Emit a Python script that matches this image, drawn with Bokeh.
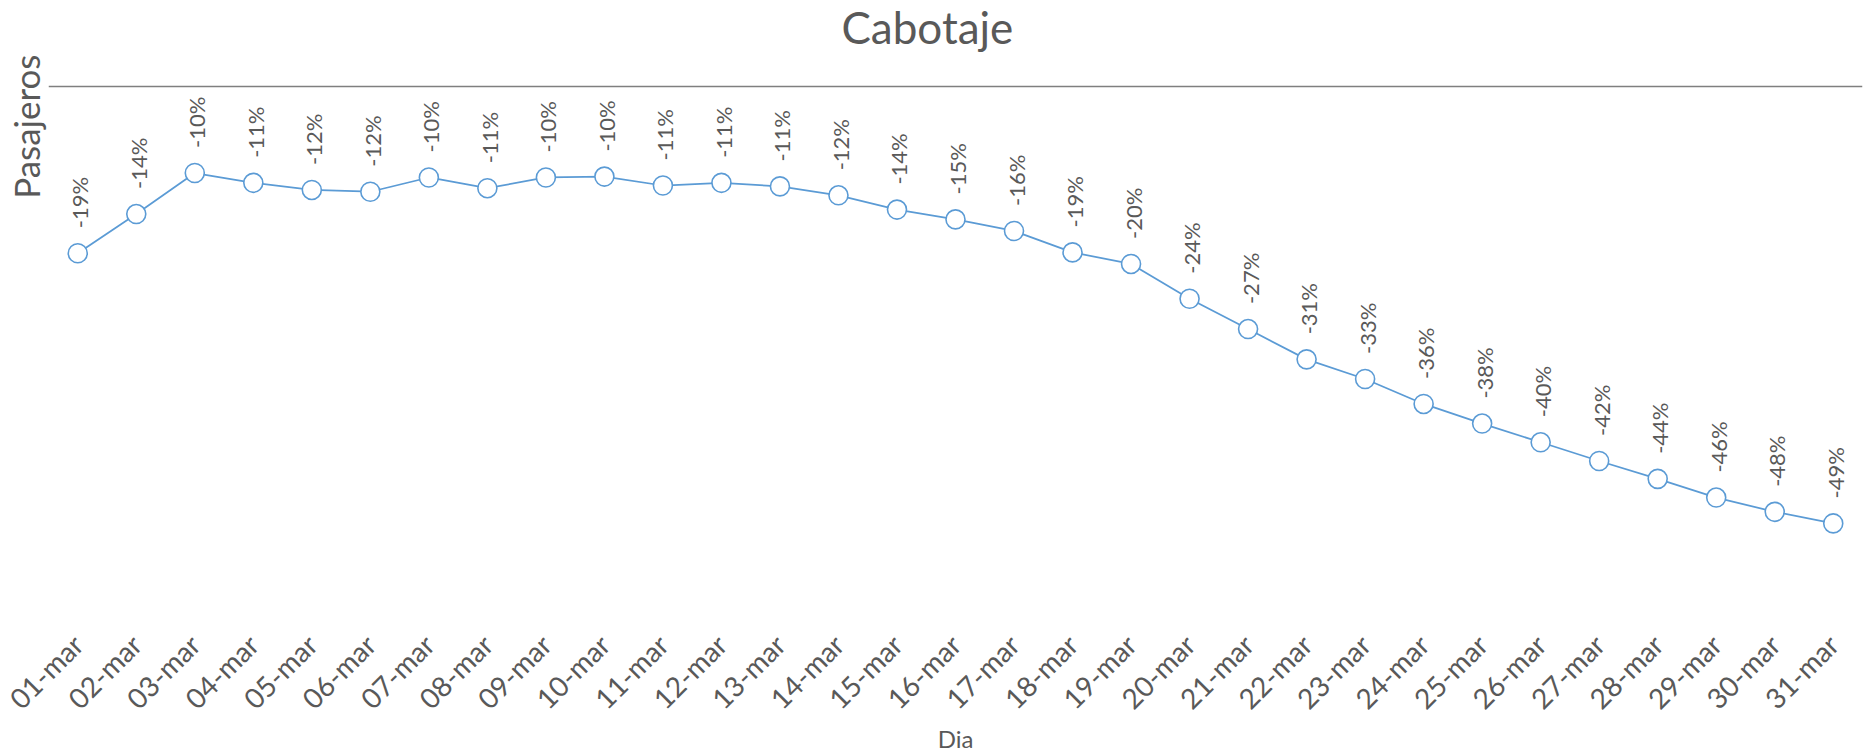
import math
from bokeh.plotting import figure
from bokeh.models import FactorRange, Range1d, Span, LabelSet, Label, ColumnDataSource, Title
from bokeh.core.properties import value
from bokeh.embed import file_html
from bokeh.resources import INLINE

dias = ["01-mar", "02-mar", "03-mar", "04-mar", "05-mar", "06-mar", "07-mar", "08-mar",
        "09-mar", "10-mar", "11-mar", "12-mar", "13-mar", "14-mar", "15-mar", "16-mar",
        "17-mar", "18-mar", "19-mar", "20-mar", "21-mar", "22-mar", "23-mar", "24-mar",
        "25-mar", "26-mar", "27-mar", "28-mar", "29-mar", "30-mar", "31-mar"]

variacion = [-18.7, -14.3, -9.7, -10.8, -11.6, -11.8, -10.2, -11.4, -10.2, -10.1,
             -11.1, -10.8, -11.2, -12.2, -13.8, -14.9, -16.2, -18.6, -19.9, -23.8,
             -27.2, -30.6, -32.8, -35.6, -37.8, -39.9, -42.0, -44.0, -46.1, -47.7, -49.0]

etiquetas = ["-19%", "-14%", "-10%", "-11%", "-12%", "-12%", "-10%", "-11%", "-10%", "-10%",
             "-11%", "-11%", "-11%", "-12%", "-14%", "-15%", "-16%", "-19%", "-20%", "-24%",
             "-27%", "-31%", "-33%", "-36%", "-38%", "-40%", "-42%", "-44%", "-46%", "-48%", "-49%"]

titulo = "Cabotaje"
eje_y = "Pasajeros"
eje_x = "Dia"

FONT = "Lato"
GREY = "#595959"
BLUE = "#5B9BD5"

src = ColumnDataSource(dict(dia=dias, v=variacion, lab=etiquetas))

p = figure(width=1864, height=756, output_backend="svg", toolbar_location=None, title=None,
           x_range=FactorRange(factors=dias, range_padding=0),
           y_range=Range1d(-60, 9.65),
           min_border_left=48, min_border_right=2, min_border_top=0, min_border_bottom=135)

p.outline_line_color = None
p.grid.visible = False
p.yaxis.visible = False

p.add_layout(Title(text=eje_y, align="right", offset=54, standoff=3, text_font=FONT,
                   text_font_size="35px", text_font_style="normal", text_color=GREY), "left")

ax = p.xaxis[0]
ax.axis_line_color = None
ax.major_tick_line_color = None
ax.minor_tick_line_color = None
ax.major_label_orientation = math.pi / 4
ax.major_label_text_font = FONT
ax.major_label_text_font_size = "28px"
ax.major_label_text_color = GREY
ax.major_label_standoff = 12
ax.axis_label = eje_x
ax.axis_label_text_font = FONT
ax.axis_label_text_font_size = "24px"
ax.axis_label_text_font_style = "normal"
ax.axis_label_text_color = GREY
ax.axis_label_standoff = -6

p.add_layout(Span(location=0, dimension="width", line_color="#7F7F7F", line_width=1.5))

p.line("dia", "v", source=src, line_color=BLUE, line_width=1.75)
p.scatter("dia", "v", source=src, size=19, fill_color="white", line_color=BLUE, line_width=1.6)

p.add_layout(LabelSet(x="dia", y="v", text="lab", source=src, angle=math.pi / 2,
                      x_offset=2, y_offset=25, text_align="left", text_baseline="middle",
                      text_font=value(FONT), text_font_size=value("22px"), text_color=GREY))

p.add_layout(Label(x=15.02, y=6.73, text=titulo, text_align="center", text_baseline="middle",
                   text_font=FONT, text_font_size="44px", text_color=GREY))

open("out.html", "w").write(file_html(p, INLINE))
